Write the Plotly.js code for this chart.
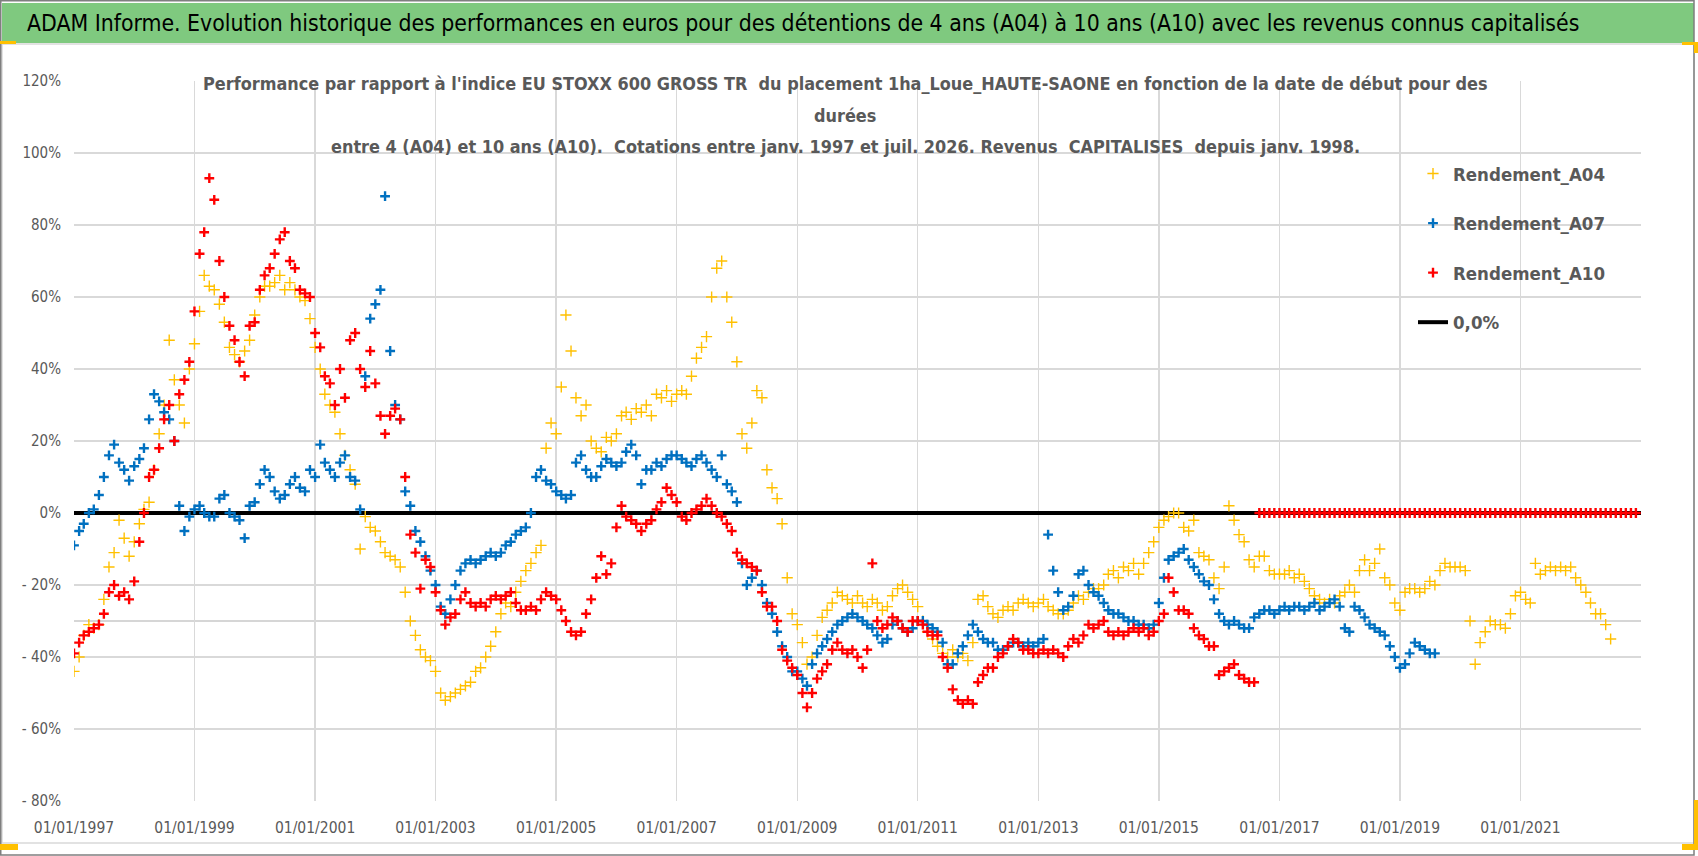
<!DOCTYPE html>
<html>
<head>
<meta charset="utf-8">
<script src="https://cdn.plot.ly/plotly-3.0.1.min.js"></script>
<style>
  html, body { margin: 0; padding: 0; background: #fff; }
  #chart { width: 1698px; height: 856px; }
</style>
</head>
<body>
<div id="chart"></div>
<script>
// monthly readings, index 0 = janv. 1997
const rendementA04 = [
  -44, -40, -34, -31, -32, -31, -24, -15, -11, -2, -7, -12,
  -8, -3, 1, 3, 12, 22, 30, 48, 37, 30, 25, 40,
  47, 56, 66, 63, 62, 58, 53, 46, 44, 42, 45, 48,
  55, 60, 63, 63, 64, 66, 62, 64, 62, 60, 59, 54,
  46, 40, 33, 30, 28, 22, 16, 12, 8, -10, -1, -4,
  -5, -8, -11, -12, -13, -15, -22, -30, -34, -38, -40, -41,
  -44, -50, -52, -51, -50, -49, -48, -47, -44, -43, -40, -37,
  -33, -28, -25, -26, -22, -19, -16, -14, -11, -9, 18, 25,
  22, 35, 55, 45, 32, 27, 30, 20, 18, 17, 21, 20,
  22, 27, 28, 26, 29, 28, 30, 27, 33, 32, 34, 31,
  33, 34, 33, 38, 43, 46, 49, 60, 68, 70, 60, 53,
  42, 22, 18, 25, 34, 32, 12, 7, 4, -3, -18, -28,
  -31, -36, -42, -40, -34, -29, -27, -25, -22, -23, -24, -25,
  -23, -25, -26, -24, -25, -27, -26, -23, -21, -20, -22, -24,
  -26, -30, -33, -35, -37, -39, -40, -38, -40, -39, -41, -36,
  -24, -23, -26, -28, -29, -27, -26, -27, -25, -24, -25, -26,
  -25, -24, -26, -27, -28, -28, -27, -25, -23, -24, -22, -21,
  -21, -20, -17, -16, -18, -15, -16, -14, -17, -14, -11, -8,
  -4, -2, -1, 0, 0, -4, -5, -2, -11, -12, -13, -18,
  -21, -15, 2, -2, -6, -8, -13, -15, -12, -12, -16, -17,
  -17, -17, -16, -18, -17, -19, -21, -23, -24, -25, -24, -25,
  -23, -22, -20, -22, -16, -13, -16, -14, -10, -18, -20, -25,
  -27, -22, -21, -21, -22, -21, -19, -20, -16, -14, -15, -15,
  -15, -16, -30, -42, -36, -33, -30, -31, -31, -32, -28, -23,
  -22, -24, -25, -14, -17, -16, -15, -16, -15, -16, -15, -18,
  -20, -22, -25, -28, -28, -31, -35
];

const rendementA07 = [
  -9, -5, -3, 0, 1, 5, 10, 16, 19, 14, 12, 9,
  13, 15, 18, 26, 33, 31, 28, 26, 20, 2, -5, -1,
  1, 2, 0, -1, -1, 4, 5, 0, -1, -2, -7, 2,
  3, 8, 12, 10, 6, 4, 5, 8, 10, 7, 6, 12,
  10, 19, 14, 12, 10, 14, 16, 10, 9, 1, 38, 54,
  58, 62, 88, 45, 30, 26, 6, 2, -5, -8, -12, -16,
  -20, -26, -28, -24, -20, -16, -14, -13, -14, -13, -12, -11,
  -12, -11, -9, -8, -6, -5, -4, 0, 10, 12, 9, 8,
  6, 5, 4, 5, 14, 16, 12, 10, 10, 13, 15, 14,
  13, 14, 17, 19, 16, 8, 12, 12, 14, 13, 15, 16,
  16, 15, 14, 13, 15, 16, 14, 12, 10, 16, 8, 6,
  3, -14, -20, -18, -16, -20, -25, -28, -33, -37, -40, -44,
  -44, -46, -48, -42, -39, -37, -35, -33, -31, -30, -29, -28,
  -29, -30, -31, -32, -34, -36, -35, -31, -30, -32, -33, -32,
  -30, -30, -31, -32, -33, -36, -42, -42, -39, -37, -34, -31,
  -33, -35, -36, -36, -38, -38, -37, -36, -36, -37, -36, -37,
  -36, -35, -6, -16, -22, -27, -26, -23, -17, -16, -20, -22,
  -23, -25, -27, -28, -28, -29, -30, -30, -31, -31, -32, -31,
  -25, -18, -13, -12, -11, -10, -13, -15, -17, -19, -20, -24,
  -28, -30, -31, -30, -31, -32, -32, -29, -28, -27, -27, -28,
  -27, -26, -27, -26, -26, -27, -26, -25, -27, -26, -25, -24,
  -26, -32, -33, -26, -27, -29, -31, -32, -33, -34, -37, -40,
  -43, -42, -39, -36, -37, -38, -39, -39
];

const rendementA10 = [
  -39, -36, -34, -33, -32, -31, -28, -22, -20, -23, -22, -24,
  -19, -8, 0, 10, 12, 18, 26, 30, 20, 33, 37, 42,
  56, 72, 78, 93, 87, 70, 60, 52, 48, 42, 38, 52,
  53, 62, 66, 68, 72, 76, 78, 70, 68, 62, 61, 60,
  50, 46, 38, 36, 30, 40, 32, 48, 50, 40, 35, 45,
  36, 27, 22, 27, 29, 26, 10, -6, -11, -21, -13, -15,
  -22, -27, -31, -29, -28, -24, -22, -25, -26, -25, -26, -24,
  -23, -24, -23, -22, -25, -27, -27, -26, -27, -24, -22, -23,
  -24, -27, -30, -33, -34, -33, -28, -24, -18, -12, -17, -14,
  -4, 2, -1, -2, -3, -5, -3, -2, 1, 3, 7, 5,
  3, -1, -2, 0, 1, 2, 4, 2, 0, -1, -3, -5,
  -11, -13, -14, -15, -16, -22, -26, -26, -30, -38, -41, -43,
  -45, -50, -54, -50, -46, -44, -42, -38, -36, -38, -39, -38,
  -40, -43, -38, -14, -30, -32, -31, -29, -30, -32, -33, -30,
  -30, -31, -33, -34, -34, -40, -43, -49, -52, -53, -52, -53,
  -47, -45, -43, -43, -40, -39, -37, -35, -36, -38, -38, -39,
  -39, -38, -39, -38, -39, -40, -37, -35, -36, -34, -31, -32,
  -31, -30, -33, -34, -33, -34, -33, -32, -33, -32, -34, -33,
  -30, -28, -18, -22, -27, -27, -28, -32, -34, -35, -37, -37,
  -45, -44, -43, -42, -45, -46, -47, -47
];

// A10 after mid-2016: no 10-year window, shown as 0
const rendementA10Fin = [
  0, 0, 0, 0, 0, 0, 0, 0, 0, 0, 0, 0,
  0, 0, 0, 0, 0, 0, 0, 0, 0, 0, 0, 0,
  0, 0, 0, 0, 0, 0, 0, 0, 0, 0, 0, 0,
  0, 0, 0, 0, 0, 0, 0, 0, 0, 0, 0, 0,
  0, 0, 0, 0, 0, 0, 0, 0, 0, 0, 0, 0,
  0, 0, 0, 0, 0, 0, 0, 0, 0, 0, 0, 0,
  0, 0, 0, 0
];

const niveauRef = 0.0;
const debut = 1997;
const fin = 2023;
const xTickYears = [1997, 1999, 2001, 2003, 2005, 2007, 2009, 2011, 2013, 2015, 2017, 2019, 2021, 2023];
const yTickVals = [-80, -60, -40, -20, 0, 20, 40, 60, 80, 100, 120];
const yTickText = ['- 80%', '- 60%', '- 40%', '- 20%', '0%', '20%', '40%', '60%', '80%', '100%', '120%'];

const FONT = '"Liberation Sans Narrow", "Arial Narrow", "DejaVu Sans Condensed", sans-serif';
const GREY = '#595959';
const GRID = '#D9D9D9';

const W = 1698, H = 856;
const M = { l: 74, r: 57, t: 81, b: 55 };
const plotW = W - M.l - M.r;
const plotH = H - M.t - M.b;
const px = x => (x - M.l) / plotW;
const py = y => (H - M.b - y) / plotH;

function monthDate(i) {
  const y = debut + Math.floor(i / 12);
  const m = String(i % 12 + 1).padStart(2, '0');
  return `${y}-${m}-01`;
}
const datesFor = arr => arr.map((_, i) => monthDate(i));

const a10All = rendementA10.concat(rendementA10Fin);
const refDates = [];
for (let i = 0; i <= (fin - debut) * 12; i++) refDates.push(monthDate(i));

const data = [
  {
    type: 'scatter', mode: 'lines', name: '0,0%',
    x: refDates, y: refDates.map(() => niveauRef),
    line: { color: '#000000', width: 4 },
    legendgroup: 'ref', legendrank: 4
  },
  {
    type: 'scatter', mode: 'markers', name: 'Rendement_A04',
    x: datesFor(rendementA04), y: rendementA04,
    marker: { symbol: 'cross-thin', size: 8, line: { color: '#FFC000', width: 1.4 } },
    legendgroup: 'a04', legendrank: 1
  },
  {
    type: 'scatter', mode: 'markers', name: 'Rendement_A07',
    x: datesFor(rendementA07), y: rendementA07,
    marker: { symbol: 'cross-thin', size: 7, line: { color: '#0070C0', width: 2.4 } },
    legendgroup: 'a07', legendrank: 2
  },
  {
    type: 'scatter', mode: 'markers', name: 'Rendement_A10',
    x: datesFor(a10All), y: a10All,
    marker: { symbol: 'cross-thin', size: 7, line: { color: '#FF0000', width: 2.4 } },
    legendgroup: 'a10', legendrank: 3
  }
];

const subtitle = [
  "Performance par rapport à l'indice EU STOXX 600 GROSS TR  du placement 1ha_Loue_HAUTE-SAONE en fonction de la date de début pour des",
  'durées',
  'entre 4 (A04) et 10 ans (A10).  Cotations entre janv. 1997 et juil. 2026. Revenus  CAPITALISES  depuis janv. 1998.'
];
const subY = [84, 115, 146];

const rectPx = (x0, y0, x1, y1, opts) => Object.assign({
  type: 'rect', xref: 'paper', yref: 'paper',
  x0: px(x0), x1: px(x1), y0: py(y1), y1: py(y0)
}, opts);

const shapes = [
  // green banner
  rectPx(2, 3, 1694, 43, { fillcolor: '#7FC97F', line: { width: 0 }, layer: 'below' }),
  // chart area borders
  rectPx(2, 44, 1694, 843, { line: { color: GRID, width: 1.5 }, layer: 'below' }),
  rectPx(0.75, 0.75, 1694, 855, { line: { color: '#7F7F7F', width: 1.5 }, layer: 'below' }),
  // white boxes behind the subtitle and legend
  rectPx(198, 80, 1490, 163, { fillcolor: '#FFFFFF', line: { width: 0 }, layer: 'between' }),
  rectPx(1385, 148, 1642, 347, { fillcolor: '#FFFFFF', line: { width: 0 }, layer: 'between' }),
  // -30 % line
  { type: 'line', xref: 'paper', yref: 'y', x0: 0, x1: 1, y0: -30, y1: -30,
    line: { color: '#C8C8C8', width: 1.5 }, layer: 'between' },
  // selection handles
  rectPx(0, 41, 16, 44, { fillcolor: '#FFC000', line: { width: 0 } }),
  rectPx(1682, 42, 1698, 45, { fillcolor: '#FFC000', line: { width: 0 } }),
  rectPx(1694, 42, 1698, 53, { fillcolor: '#FFC000', line: { width: 0 } }),
  rectPx(0, 844, 18, 850, { fillcolor: '#FFC000', line: { width: 0 } }),
  rectPx(1694, 800, 1698, 850, { fillcolor: '#FFC000', line: { width: 0 } }),
  rectPx(1682, 844, 1698, 850, { fillcolor: '#FFC000', line: { width: 0 } })
];

const annotations = subtitle.map((t, i) => ({
  text: '<b>' + t + '</b>', xref: 'paper', yref: 'paper',
  x: px(845), y: py(subY[i]), xanchor: 'center', yanchor: 'middle',
  showarrow: false, font: { family: FONT, size: 17.9, color: GREY }
}));

const layout = {
  width: W, height: H,
  margin: M,
  paper_bgcolor: '#FFFFFF', plot_bgcolor: '#FFFFFF',
  font: { family: FONT, color: GREY },
  title: {
    text: 'ADAM Informe. Evolution historique des performances en euros pour des détentions de 4 ans (A04) à 10 ans (A10) avec les revenus connus capitalisés',
    font: { family: FONT, size: 22.8, color: '#000000' },
    xref: 'container', x: 27 / W, xanchor: 'left',
    yref: 'container', y: 1 - 23 / H, yanchor: 'middle'
  },
  xaxis: {
    type: 'date',
    range: [`${debut}-01-01`, `${fin}-01-01`],
    tickvals: xTickYears.map(y => `${y}-01-01`),
    ticktext: xTickYears.map(y => (y < fin ? `01/01/${y}` : '')),
    tickfont: { family: FONT, size: 15.5, color: GREY },
    showgrid: true, gridcolor: GRID, gridwidth: 1.5,
    zeroline: false, showline: false, ticks: '',
    ticklabelstandoff: 15
  },
  yaxis: {
    range: [-80, 120],
    tickvals: yTickVals, ticktext: yTickText,
    tickfont: { family: FONT, size: 15, color: GREY },
    showgrid: true, gridcolor: GRID, gridwidth: 1.5,
    zeroline: false, showline: false, ticks: '',
    ticklabelstandoff: 12
  },
  showlegend: true,
  legend: {
    x: px(1413), y: py(155), xanchor: 'left', yanchor: 'top',
    bgcolor: 'rgba(0,0,0,0)', borderwidth: 0,
    font: { family: FONT, size: 18.5, color: GREY, weight: 'bold' },
    tracegroupgap: 22.5, itemwidth: 30
  },
  shapes: shapes,
  annotations: annotations
};

Plotly.newPlot('chart', data, layout, { displayModeBar: false, staticPlot: true });
</script>
</body>
</html>
